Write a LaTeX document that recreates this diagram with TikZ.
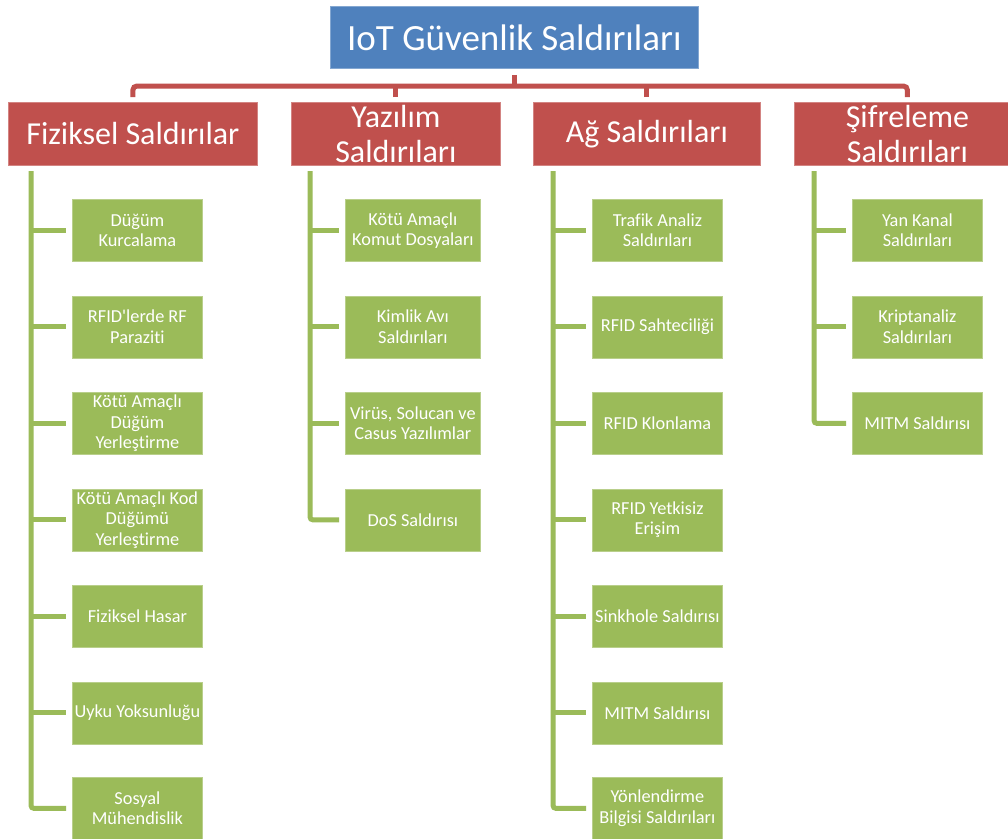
\documentclass[tikz,border=0pt]{standalone}
\usepackage{fontspec}
\setmainfont{Carlito}[Ligatures=CommonOff]
\definecolor{topblue}{HTML}{4F81BD}
\definecolor{catred}{HTML}{C0504D}
\definecolor{leafgreen}{HTML}{9BBB59}
\tikzset{
  rootbox/.style={draw=topblue!70!white, line width=0.8pt, fill=topblue, text=white,
    anchor=north west, minimum width=368pt, minimum height=62pt, inner sep=2pt,
    font=\fontsize{37}{42}\selectfont},
  catbox/.style={draw=catred!70!white, line width=0.8pt, fill=catred, text=white,
    anchor=north west, minimum height=63pt, inner sep=2pt, align=center,
    font=\fontsize{32}{35}\selectfont},
  leafbox/.style={draw=leafgreen!70!white, line width=0.8pt, fill=leafgreen, text=white,
    anchor=north west, minimum width=130pt, minimum height=62pt, inner sep=1pt, align=center,
    font=\fontsize{18.3}{20.5}\selectfont},
  redline/.style={draw=catred, line width=5pt},
  greenline/.style={draw=leafgreen, line width=5pt},
}
\begin{document}
\begin{tikzpicture}[x=1pt, y=-1pt]
\clip (0,0) rectangle (1008,838);
\fill[white] (0,0) rectangle (1008,838);

% root and category boxes
\node[rootbox] (root) at (330,6) {IoT Güvenlik Saldırıları};
\node[catbox, minimum width=249pt] (fiz) at (8,102) {Fiziksel Saldırılar};
\node[catbox, minimum width=209pt] (yaz) at (291,102) {Yazılım\\Saldırıları};
\node[catbox, minimum width=227pt] (ag)  at (533,102) {Ağ Saldırıları};
\node[catbox, minimum width=226pt] (sif) at (794,102) {Şifreleme\\Saldırıları};

% red bus from the root to the categories
\coordinate (bus) at (514,86);
\draw[redline] ([yshift=-6pt]root.south) -- (root.south |- bus);
\draw[redline, rounded corners=4pt] ([yshift=5pt]fiz.north) |- (bus) -| ([yshift=5pt]sif.north);
\draw[redline] ([yshift=5pt]yaz.north) -- (yaz.north |- bus);
\draw[redline] ([yshift=5pt]ag.north) -- (ag.north |- bus);

% Fiziksel leaves
\node[leafbox] (f1) at (72,199)   {Düğüm\\Kurcalama};
\node[leafbox] (f2) at (72,295.5) {RFID\textquotesingle lerde RF\\Paraziti};
\node[leafbox] (f3) at (72,392)   {Kötü Amaçlı\\Düğüm\\Yerleştirme};
\node[leafbox] (f4) at (72,488.5) {Kötü Amaçlı Kod\\Düğümü\\Yerleştirme};
\node[leafbox] (f5) at (72,585)   {Fiziksel Hasar};
\node[leafbox] (f6) at (72,681.5) {Uyku Yoksunluğu};
\node[leafbox] (f7) at (72,777)   {Sosyal\\Mühendislik};

% Yazılım leaves
\node[leafbox, minimum width=135pt] (y1) at (345,199)   {Kötü Amaçlı\\Komut Dosyaları};
\node[leafbox, minimum width=135pt] (y2) at (345,295.5) {Kimlik Avı\\Saldırıları};
\node[leafbox, minimum width=135pt] (y3) at (345,392)   {Virüs, Solucan ve\\Casus Yazılımlar};
\node[leafbox, minimum width=135pt] (y4) at (345,488.5) {DoS Saldırısı};

% Ağ leaves
\node[leafbox] (a1) at (592,199)   {Trafik Analiz\\Saldırıları};
\node[leafbox] (a2) at (592,295.5) {RFID Sahteciliği};
\node[leafbox] (a3) at (592,392)   {RFID Klonlama};
\node[leafbox] (a4) at (592,488.5) {RFID Yetkisiz\\Erişim};
\node[leafbox] (a5) at (592,585)   {Sinkhole Saldırısı};
\node[leafbox] (a6) at (592,681.5) {MITM Saldırısı};
\node[leafbox] (a7) at (592,777)   {Yönlendirme\\Bilgisi Saldırıları};

% Şifreleme leaves
\node[leafbox] (s1) at (852,199)   {Yan Kanal\\Saldırıları};
\node[leafbox] (s2) at (852,295.5) {Kriptanaliz\\Saldırıları};
\node[leafbox] (s3) at (852,392)   {MITM Saldırısı};

% green trunks
\coordinate (ft) at (31,171);
\coordinate (yt) at (310,171);
\coordinate (at) at (553,171);
\coordinate (st) at (814,171);

\draw[greenline, rounded corners=3pt] (ft) |- ([xshift=-6pt]f7.west);
\foreach \n in {f1,f2,f3,f4,f5,f6}
  \draw[greenline] (ft |- \n.west) -- ([xshift=-6pt]\n.west);

\draw[greenline, rounded corners=3pt] (yt) |- ([xshift=-6pt]y4.west);
\foreach \n in {y1,y2,y3}
  \draw[greenline] (yt |- \n.west) -- ([xshift=-6pt]\n.west);

\draw[greenline, rounded corners=3pt] (at) |- ([xshift=-6pt]a7.west);
\foreach \n in {a1,a2,a3,a4,a5,a6}
  \draw[greenline] (at |- \n.west) -- ([xshift=-6pt]\n.west);

\draw[greenline, rounded corners=3pt] (st) |- ([xshift=-6pt]s3.west);
\foreach \n in {s1,s2}
  \draw[greenline] (st |- \n.west) -- ([xshift=-6pt]\n.west);
\end{tikzpicture}
\end{document}
